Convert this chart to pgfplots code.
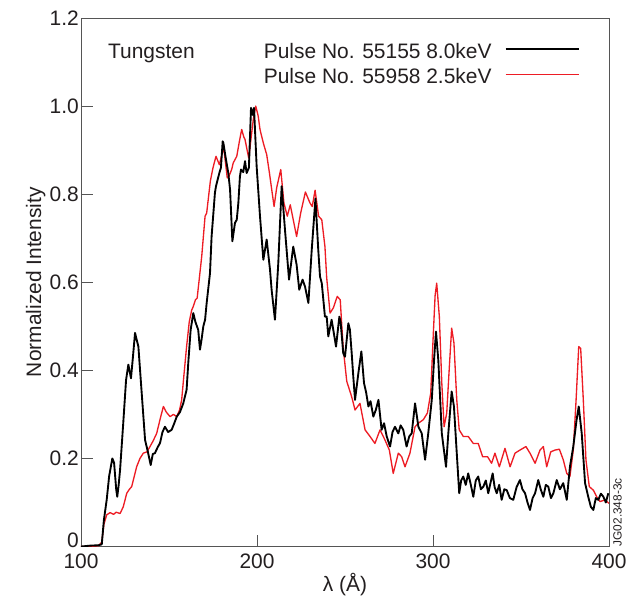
\documentclass[border=0pt]{standalone}
\usepackage{fontspec}
\setmainfont{Liberation Sans}
\usepackage{pgfplots}
\pgfplotsset{compat=1.18}
\definecolor{ink}{HTML}{231F20}
\definecolor{axisgray}{HTML}{555555}
\definecolor{jetred}{RGB}{237,28,36}
\newcommand{\lbl}{\fontsize{15.7}{18}\selectfont}

\begin{document}
\begin{tikzpicture}
\begin{axis}[
    scale only axis,
    width=396pt, height=396.4pt,
    xmin=100, xmax=400, ymin=0, ymax=1.2,
    xtick={100,200,300,400},
    ytick={0,0.2,0.4,0.6,0.8,1.0,1.2},
    yticklabels={\raisebox{-0.5pt}[0pt][0pt]{0},0.2,0.4,0.6,0.8,1.0,1.2},
    tick pos=left,
    tick align=inside,
    major tick length=9pt,
    minor tick num=0,
    axis line style={axisgray, line width=0.6pt},
    every tick/.style={axisgray, line width=0.6pt},
    /pgf/number format/assume math mode=true,
    tick label style={font=\lbl, text=ink},
    yticklabel style={inner xsep=1.5pt},
    xticklabel style={inner ysep=5pt},
    label style={font=\lbl, text=ink},
    xlabel={λ (Å)},
    ylabel={Normalized Intensity},
    xlabel style={yshift=5pt},
    ylabel style={yshift=-2pt},
    legend plot pos=right,
    reverse legend,
    legend cell align=left,
    legend style={draw=none, fill=none, inner sep=0pt, font=\lbl, text=ink,
      at={(axis cs:383.5,1.1425)}, anchor=north east,
      column sep=10pt, row sep=4pt,
      nodes={inner sep=0pt, text height=11pt, text depth=4pt}},
    legend image code/.code={\draw[#1, line width=1.1pt] (0pt,3.5pt) -- (55pt,3.5pt);},
]
\coordinate (sw) at (rel axis cs:0,0);
\coordinate (ne) at (rel axis cs:1,1);

\addplot[jetred, line width=1pt, line join=round] coordinates {
(100,0) (105,0) (110,0.002) (111.8,0.01) (113,0.05) (114.6,0.072) (116.5,0.077)
(118.5,0.073) (120,0.078) (122.2,0.075) (124,0.09) (126,0.121) (127.5,0.13)
(128.8,0.136) (130,0.155) (131.6,0.181) (133.5,0.2) (135.4,0.212) (137.5,0.215)
(139.2,0.227) (141,0.24) (143,0.257) (145,0.29) (146.8,0.318) (148.5,0.305)
(150.6,0.295) (152.5,0.3) (154.4,0.295) (156,0.31) (157.2,0.333) (158.5,0.39)
(160,0.454) (161.5,0.51) (162.9,0.537) (163.8,0.545) (165,0.56) (166,0.564)
(168.6,0.659) (170.5,0.75) (171.4,0.757) (173.5,0.83) (175,0.86) (176.7,0.886)
(178.6,0.867) (180.5,0.897) (180.9,0.912) (183.1,0.837) (184,0.84) (185.6,0.856)
(186.5,0.871) (188.5,0.886) (190,0.92) (191.3,0.947) (192.5,0.93) (193.2,0.924)
(195.3,0.882) (197.9,0.97) (199.3,1.0) (200.7,0.977) (201.7,0.947) (203.6,0.916)
(205.5,0.89) (207,0.85) (209.7,0.772) (211.2,0.815) (213.5,0.856) (215.3,0.78)
(217.2,0.75) (218.9,0.776) (220.6,0.742) (222.5,0.704) (224.8,0.757) (227.5,0.805)
(230.1,0.78) (231.4,0.772) (233,0.809) (235,0.75) (236.8,0.742) (238.6,0.681)
(239.6,0.61) (240.8,0.56) (241.5,0.53) (243.4,0.542) (245.6,0.568) (247.3,0.56)
(248.2,0.5) (249,0.45) (251,0.375) (253.8,0.34) (255.7,0.31) (258.5,0.325)
(261.4,0.265) (264.2,0.25) (267,0.234) (269.9,0.265) (272.7,0.242) (275.2,0.219)
(277.4,0.166) (280.3,0.212) (282.2,0.204) (284.1,0.181) (286.9,0.212) (289.8,0.272)
(291.7,0.28) (294.5,0.288) (296.8,0.303) (298.7,0.348) (300.2,0.485) (301.2,0.57)
(302.1,0.598) (303.6,0.522) (305,0.371) (306.3,0.272) (307.8,0.303) (309.3,0.409)
(310.6,0.496) (311.9,0.462) (313.5,0.333) (314.9,0.265) (317.2,0.25) (320,0.25)
(322.9,0.234) (325.7,0.234) (328.2,0.204) (331,0.204) (333.3,0.189) (335.2,0.212)
(337.7,0.181) (340.9,0.223) (343.8,0.181) (346.6,0.212) (349.4,0.219) (352.8,0.227)
(355.1,0.212) (358,0.189) (360.8,0.219) (362.7,0.227) (364.6,0.181) (366.9,0.215)
(369.3,0.219) (371.8,0.221) (374,0.197) (376,0.166) (377.8,0.159) (379.7,0.219)
(381.3,0.333) (382.8,0.454) (383.9,0.45) (385.4,0.333) (386.9,0.197) (388.8,0.136)
(391.1,0.128) (393,0.113) (394.9,0.102) (397.7,0.106) (400,0.098)
};
\addlegendentry{Pulse No. 55958 2.5keV}

\addplot[black, line width=1.4pt, line join=round] coordinates {
(100,0) (105,0.002) (110,0.003) (111.8,0.005) (113,0.06) (114.6,0.106) (116,0.16)
(117.8,0.2) (118.8,0.19) (120,0.13) (120.6,0.113) (121.4,0.14) (122.2,0.174)
(124,0.28) (125.6,0.378) (126.9,0.413) (128.4,0.382) (129.5,0.43) (130.7,0.485)
(132.6,0.454) (134.5,0.348) (136.4,0.242) (138,0.215) (139.6,0.185) (140.8,0.21)
(142,0.212) (143.5,0.225) (144.9,0.235) (146.3,0.26) (147.7,0.272) (149.5,0.26)
(151.5,0.265) (153,0.28) (154.4,0.295) (156.2,0.305) (158.1,0.325) (160,0.356)
(161,0.42) (162.3,0.492) (163.8,0.53) (165,0.51) (166.6,0.492) (167.6,0.447)
(168.5,0.47) (169.5,0.5) (170.5,0.515) (171.4,0.553) (173.3,0.621) (174.2,0.704)
(176.1,0.803) (176.7,0.818) (178.6,0.848) (179.5,0.86) (180.5,0.92) (180.9,0.916)
(182.4,0.878) (183.7,0.848) (184.7,0.81) (186,0.693) (187.5,0.735) (188.5,0.742)
(189.4,0.78) (190.3,0.84) (190.9,0.856) (192.2,0.85) (193.2,0.875) (194.1,0.848)
(195.4,0.86) (196.6,0.996) (197.5,0.98) (198.3,0.996) (199.8,0.863) (201.7,0.75)
(203.6,0.651) (205.5,0.697) (207.4,0.628) (208.3,0.583) (210.2,0.515) (212.1,0.644)
(214,0.818) (215.9,0.719) (218.2,0.606) (220.6,0.681) (222.5,0.64) (224,0.583)
(225.9,0.606) (227.3,0.59) (229.2,0.553) (231.1,0.674) (233.2,0.79) (234.8,0.674)
(235.8,0.613) (236.8,0.598) (238.6,0.522) (239.6,0.522) (240.5,0.477) (242.4,0.515)
(244.9,0.454) (246.8,0.522) (247.5,0.51) (249,0.439) (250,0.431) (251.9,0.507)
(252.8,0.492) (253.8,0.439) (254.7,0.386) (255.7,0.333) (257.6,0.394) (259.3,0.443)
(260.8,0.371) (262,0.35) (263.3,0.318) (264.5,0.33) (266.1,0.295) (267.5,0.31)
(269,0.333) (270.8,0.265) (272.2,0.28) (273.7,0.25) (275.6,0.227) (277,0.26)
(278.4,0.272) (280.3,0.257) (281.6,0.275) (283.1,0.265) (285,0.227) (286.5,0.25)
(287.9,0.257) (289.8,0.325) (291.7,0.272) (293.6,0.257) (295.5,0.197) (297.3,0.257)
(299.3,0.333) (300.6,0.424) (301.7,0.488) (303,0.424) (305,0.257) (307.4,0.181)
(308.7,0.257) (310.6,0.352) (311.9,0.318) (313.5,0.212) (314.9,0.121) (316,0.15)
(317.2,0.159) (318.6,0.14) (320,0.166) (321.5,0.14) (322.9,0.113) (324.3,0.15)
(325.7,0.159) (327.2,0.13) (328.6,0.136) (330,0.15) (331.4,0.121) (332.7,0.145)
(333.9,0.166) (335,0.135) (336.2,0.121) (337.6,0.14) (339,0.106) (340.5,0.13)
(341.9,0.128) (343.7,0.11) (345.6,0.106) (347.5,0.135) (349.4,0.151) (350.8,0.13)
(352.3,0.121) (353.7,0.1) (355.1,0.083) (356.6,0.11) (358,0.121) (359.8,0.151)
(361.2,0.13) (362.7,0.113) (364.1,0.14) (365.5,0.136) (367,0.11) (368.4,0.121)
(370.3,0.151) (372.1,0.13) (374,0.144) (376,0.106) (377.8,0.181) (379.7,0.227)
(381.6,0.288) (382.8,0.318) (384.5,0.257) (386.4,0.144) (388.2,0.113) (389.7,0.09)
(391.1,0.083) (392.5,0.11) (393.9,0.106) (395.4,0.12) (396.8,0.113) (398.2,0.1)
(399.6,0.121)
};
\addlegendentry{Pulse No. 55155 8.0keV}

\node[anchor=base west, inner sep=0pt, font=\lbl, text=ink] at (axis cs:115.3,1.109) {Tungsten};
\end{axis}
\node[rotate=90, anchor=north west, inner sep=0pt, font=\fontsize{8.9}{10}\selectfont, text=ink]
  at ([xshift=3pt]sw -| ne) {JG02.348-3c};
\pgfresetboundingbox
\path ([xshift=-60.75pt,yshift=-40.1pt]sw) rectangle ([xshift=15.75pt,yshift=13.5pt]ne);
\end{tikzpicture}
\end{document}
